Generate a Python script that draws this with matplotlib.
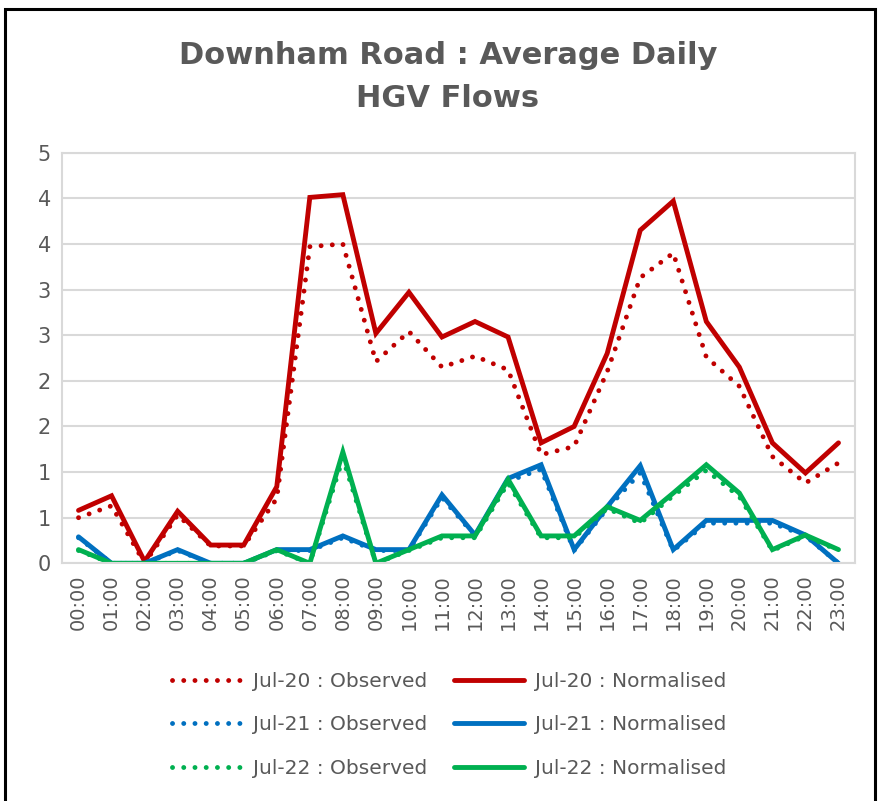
import matplotlib.pyplot as plt
from matplotlib.patches import Rectangle

hours = ['%02d:00' % h for h in range(24)]

jul20_obs = [0.50, 0.63, 0.00, 0.53, 0.19, 0.19, 0.71, 3.47, 3.50, 2.21, 2.54, 2.15,
             2.27, 2.12, 1.19, 1.28, 2.10, 3.13, 3.40, 2.26, 1.94, 1.17, 0.88, 1.10]
jul20_norm = [0.58, 0.74, 0.02, 0.57, 0.20, 0.20, 0.84, 4.01, 4.04, 2.52, 2.97, 2.48,
              2.65, 2.48, 1.32, 1.50, 2.30, 3.65, 3.97, 2.65, 2.15, 1.32, 0.99, 1.32]
jul21_obs = [0.28, 0.00, 0.00, 0.14, 0.00, 0.00, 0.14, 0.14, 0.28, 0.14, 0.14, 0.72,
             0.30, 0.90, 1.03, 0.14, 0.60, 0.99, 0.14, 0.44, 0.44, 0.44, 0.30, 0.00]
jul21_norm = [0.29, 0.00, 0.00, 0.15, 0.00, 0.00, 0.15, 0.15, 0.30, 0.15, 0.15, 0.75,
              0.31, 0.93, 1.08, 0.15, 0.62, 1.07, 0.15, 0.47, 0.47, 0.47, 0.31, 0.00]
jul22_obs = [0.14, 0.00, 0.00, 0.00, 0.00, 0.00, 0.14, 0.00, 1.15, 0.00, 0.14, 0.28,
             0.28, 0.88, 0.28, 0.28, 0.60, 0.44, 0.74, 1.02, 0.73, 0.14, 0.30, 0.14]
jul22_norm = [0.15, 0.00, 0.00, 0.00, 0.00, 0.00, 0.15, 0.00, 1.22, 0.00, 0.15, 0.30,
              0.30, 0.92, 0.30, 0.30, 0.62, 0.47, 0.77, 1.08, 0.77, 0.15, 0.31, 0.15]

yticks = [0, 0.5, 1.0, 1.5, 2.0, 2.5, 3.0, 3.5, 4.0, 4.5]
ytick_labels = ['0', '1', '1', '2', '2', '3', '3', '4', '4', '5']

red, blue, green = '#C00000', '#0070C0', '#00B050'
grey = '#595959'

fig = plt.figure(figsize=(8.79, 8.01), dpi=100)
ax = fig.add_axes([62 / 879, 1 - 563.3 / 801, (855 - 62) / 879, (563.3 - 152.7) / 801])

x = range(len(hours))
dot = (0, (0.01, 2.3))
lw = 3.5

series = [
    (jul20_obs, red, dot, 'Jul-20 : Observed'),
    (jul20_norm, red, '-', 'Jul-20 : Normalised'),
    (jul21_obs, blue, dot, 'Jul-21 : Observed'),
    (jul21_norm, blue, '-', 'Jul-21 : Normalised'),
    (jul22_obs, green, dot, 'Jul-22 : Observed'),
    (jul22_norm, green, '-', 'Jul-22 : Normalised'),
]
handles = {}
for vals, col, ls, lab in series:
    ln, = ax.plot(x, vals, color=col, linestyle=ls, lw=lw, label=lab,
                  dash_capstyle='round', solid_capstyle='round', solid_joinstyle='miter')
    handles[lab] = ln

ax.set_xlim(-0.5, 23.5)
ax.set_ylim(0, 4.5)
ax.set_xticks(list(x))
ax.set_xticklabels(hours, rotation=90, fontsize=14, color=grey)
ax.set_yticks(yticks)
ax.set_yticklabels(ytick_labels, fontsize=15, color=grey)
ax.tick_params(length=0, pad=8)
ax.grid(axis='y', color='#D9D9D9', lw=1.5)
ax.set_axisbelow(True)
for s in ax.spines.values():
    s.set_color('#D9D9D9')
    s.set_linewidth(1.5)

fig.text(448 / 879, 1 - 77 / 801, 'Downham Road : Average Daily\nHGV Flows',
         ha='center', va='center', fontsize=22, fontweight='bold', color=grey,
         linespacing=1.6)

order = ['Jul-20 : Observed', 'Jul-21 : Observed', 'Jul-22 : Observed',
         'Jul-20 : Normalised', 'Jul-21 : Normalised', 'Jul-22 : Normalised']
leg = fig.legend([handles[k] for k in order], order, loc='center', ncol=2,
                 bbox_to_anchor=(449 / 879, 1 - 725 / 801), frameon=False,
                 fontsize=14.5, handlelength=3.5, handletextpad=0.55,
                 columnspacing=1.3, labelspacing=1.2)
for t in leg.get_texts():
    t.set_color(grey)

fig.patches.append(Rectangle((5 / 879, -0.05), 870 / 879, 1.05 - 9 / 801,
                             transform=fig.transFigure, fill=False,
                             edgecolor='black', lw=2.2))

fig.savefig('out.png', dpi=100)
